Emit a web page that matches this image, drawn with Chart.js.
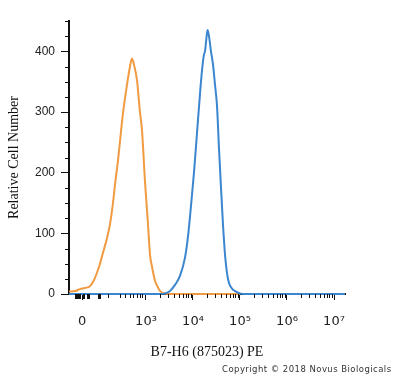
<!DOCTYPE html>
<html>
<head>
<meta charset="utf-8">
<script src="https://cdn.jsdelivr.net/npm/chart.js@4/dist/chart.umd.min.js"></script>
<style>
  html, body { margin: 0; padding: 0; background: #fff; }
  #wrap { position: relative; width: 400px; height: 378px; }
  #c { position: absolute; left: 0; top: 0; }
  #copy { position: absolute; left: 222px; top: 364px; font: 8.5px "DejaVu Sans", sans-serif; letter-spacing: 0.45px; color: #333; white-space: nowrap; }
</style>
</head>
<body>
<div id="wrap">
  <canvas id="c" width="400" height="378"></canvas>
  <div id="copy">Copyright © 2018 Novus Biologicals</div>
</div>
<script>
// Display positions on the biexponential axis (1 unit = 1 decade)
const xTickPositions = [1.64, 3, 4, 5, 6, 7];
const xTickLabels = ['0', '10³', '10⁴', '10⁵', '10⁶', '10⁷'];
const xMinorPositions = [2.198, 2.447, 2.553, 2.660, 2.730, 2.802, 2.872, 2.921,
  3.301, 3.477, 3.602, 3.699, 3.778, 3.845, 3.903, 3.954,
  4.301, 4.477, 4.602, 4.699, 4.778, 4.845, 4.903, 4.954,
  5.301, 5.477, 5.602, 5.699, 5.778, 5.845, 5.903, 5.954,
  6.301, 6.477, 6.602, 6.699, 6.778, 6.845, 6.903, 6.954];
const xNearZeroTicks = [1.511, 1.532, 1.574, 1.596, 1.681, 1.766, 1.787, 2.0, 2.021];
const yTickValues = [0, 100, 200, 300, 400];
const yMinorValues = [25, 50, 75, 125, 150, 175, 225, 250, 275, 325, 350, 375, 425, 450];

// Isotype (orange) histogram
const isotypeX = [1.362, 1.500, 1.596, 1.700, 1.809, 1.900, 1.957, 2.021, 2.085, 2.170, 2.234, 2.298, 2.340, 2.404, 2.511, 2.596, 2.660, 2.702, 2.745, 2.809, 2.872, 2.915, 2.979, 3.043, 3.085, 3.128, 3.191, 3.234, 3.298, 3.383, 3.511, 4.0, 5.0];
const isotypeY = [4, 5, 8, 10, 13, 24, 35, 50, 68, 92, 115, 150, 180, 220, 298, 345, 375, 388, 378, 352, 300, 270, 185, 115, 65, 45, 22, 14, 5, 1, 0, 0, 0];

// B7-H6 (blue) histogram
const b7h6X = [1.362, 2.872, 3.298, 3.404, 3.511, 3.617, 3.723, 3.830, 3.894, 3.957, 4.021, 4.085, 4.149, 4.191, 4.234, 4.255, 4.277, 4.309, 4.340, 4.383, 4.426, 4.468, 4.511, 4.553, 4.596, 4.638, 4.681, 4.723, 4.766, 4.830, 4.915, 5.0, 5.106, 7.234];
const b7h6Y = [0, 0, 0, 1, 5, 15, 30, 60, 95, 145, 200, 265, 330, 368, 395, 400, 415, 435, 425, 400, 378, 345, 310, 240, 175, 115, 65, 35, 18, 9, 4, 1, 0, 0];

const toPts = (xs, ys) => xs.map((x, i) => ({ x: x, y: ys[i] }));

const minorTicks = {
  id: 'minorTicks',
  afterDatasetsDraw(chart) {
    const ctx = chart.ctx, xs = chart.scales.x, ys = chart.scales.y;
    const y0 = chart.chartArea.bottom, x0 = chart.chartArea.left;
    ctx.save();
    ctx.strokeStyle = '#111';
    ctx.lineWidth = 1;
    ctx.beginPath();
    xMinorPositions.forEach(v => { const p = Math.round(xs.getPixelForValue(v)) + 0.5; ctx.moveTo(p, y0); ctx.lineTo(p, y0 + 4); });
    yMinorValues.forEach(v => { const p = Math.round(ys.getPixelForValue(v)) + 0.5; ctx.moveTo(x0 - 4, p); ctx.lineTo(x0, p); });
    ctx.stroke();
    ctx.lineWidth = 2;
    ctx.beginPath();
    xNearZeroTicks.forEach(v => { const p = Math.round(xs.getPixelForValue(v)); ctx.moveTo(p, y0); ctx.lineTo(p, y0 + 5); });
    ctx.stroke();
    ctx.restore();
  }
};

new Chart(document.getElementById('c'), {
  type: 'line',
  data: {
    datasets: [
      { label: 'B7-H6 (875023) PE', data: toPts(b7h6X, b7h6Y), borderColor: '#3C86CF', borderWidth: 2, pointRadius: 0, cubicInterpolationMode: 'monotone', clip: false, fill: false },
      { label: 'Isotype control', data: toPts(isotypeX, isotypeY), borderColor: '#F09A42', borderWidth: 2, pointRadius: 0, cubicInterpolationMode: 'monotone', clip: false, fill: false }
    ]
  },
  options: {
    responsive: false,
    animation: false,
    layout: { padding: { left: 0, right: 55, top: 21, bottom: 0 } },
    plugins: { legend: { display: false }, tooltip: { enabled: false } },
    scales: {
      x: {
        type: 'linear',
        min: 1.362, max: 7.234,
        afterFit: s => { s.height = 84; },
        afterBuildTicks: s => { s.ticks = xTickPositions.map(v => ({ value: v })); },
        grid: { drawOnChartArea: false, tickLength: 6, tickColor: '#111', tickWidth: 1 },
        border: { display: true, color: '#111', width: 2 },
        ticks: {
          autoSkip: false, maxRotation: 0, padding: 14, color: '#222',
          font: { family: '"DejaVu Sans", "Liberation Sans", Arial, sans-serif', size: 13 },
          callback: (v, i) => xTickLabels[i]
        },
        title: { display: true, text: 'B7-H6 (875023) PE', color: '#111', padding: { top: 0, bottom: 17 },
          font: { family: '"Liberation Serif", "Times New Roman", serif', size: 14 } }
      },
      y: {
        type: 'linear',
        min: 0, max: 450,
        afterFit: s => { s.width = 69; },
        afterBuildTicks: s => { s.ticks = yTickValues.map(v => ({ value: v })); },
        grid: { drawOnChartArea: false, tickLength: 8, tickColor: '#111', tickWidth: 1 },
        border: { display: true, color: '#111', width: 2 },
        ticks: {
          padding: 6, color: '#222',
          font: { family: '"Liberation Sans", Arial, sans-serif', size: 12 }
        },
        title: { display: true, text: 'Relative Cell Number', color: '#111', padding: { top: 6, bottom: 0 },
          font: { family: '"Liberation Serif", "Times New Roman", serif', size: 14 } }
      }
    }
  },
  plugins: [minorTicks]
});
</script>
</body>
</html>
